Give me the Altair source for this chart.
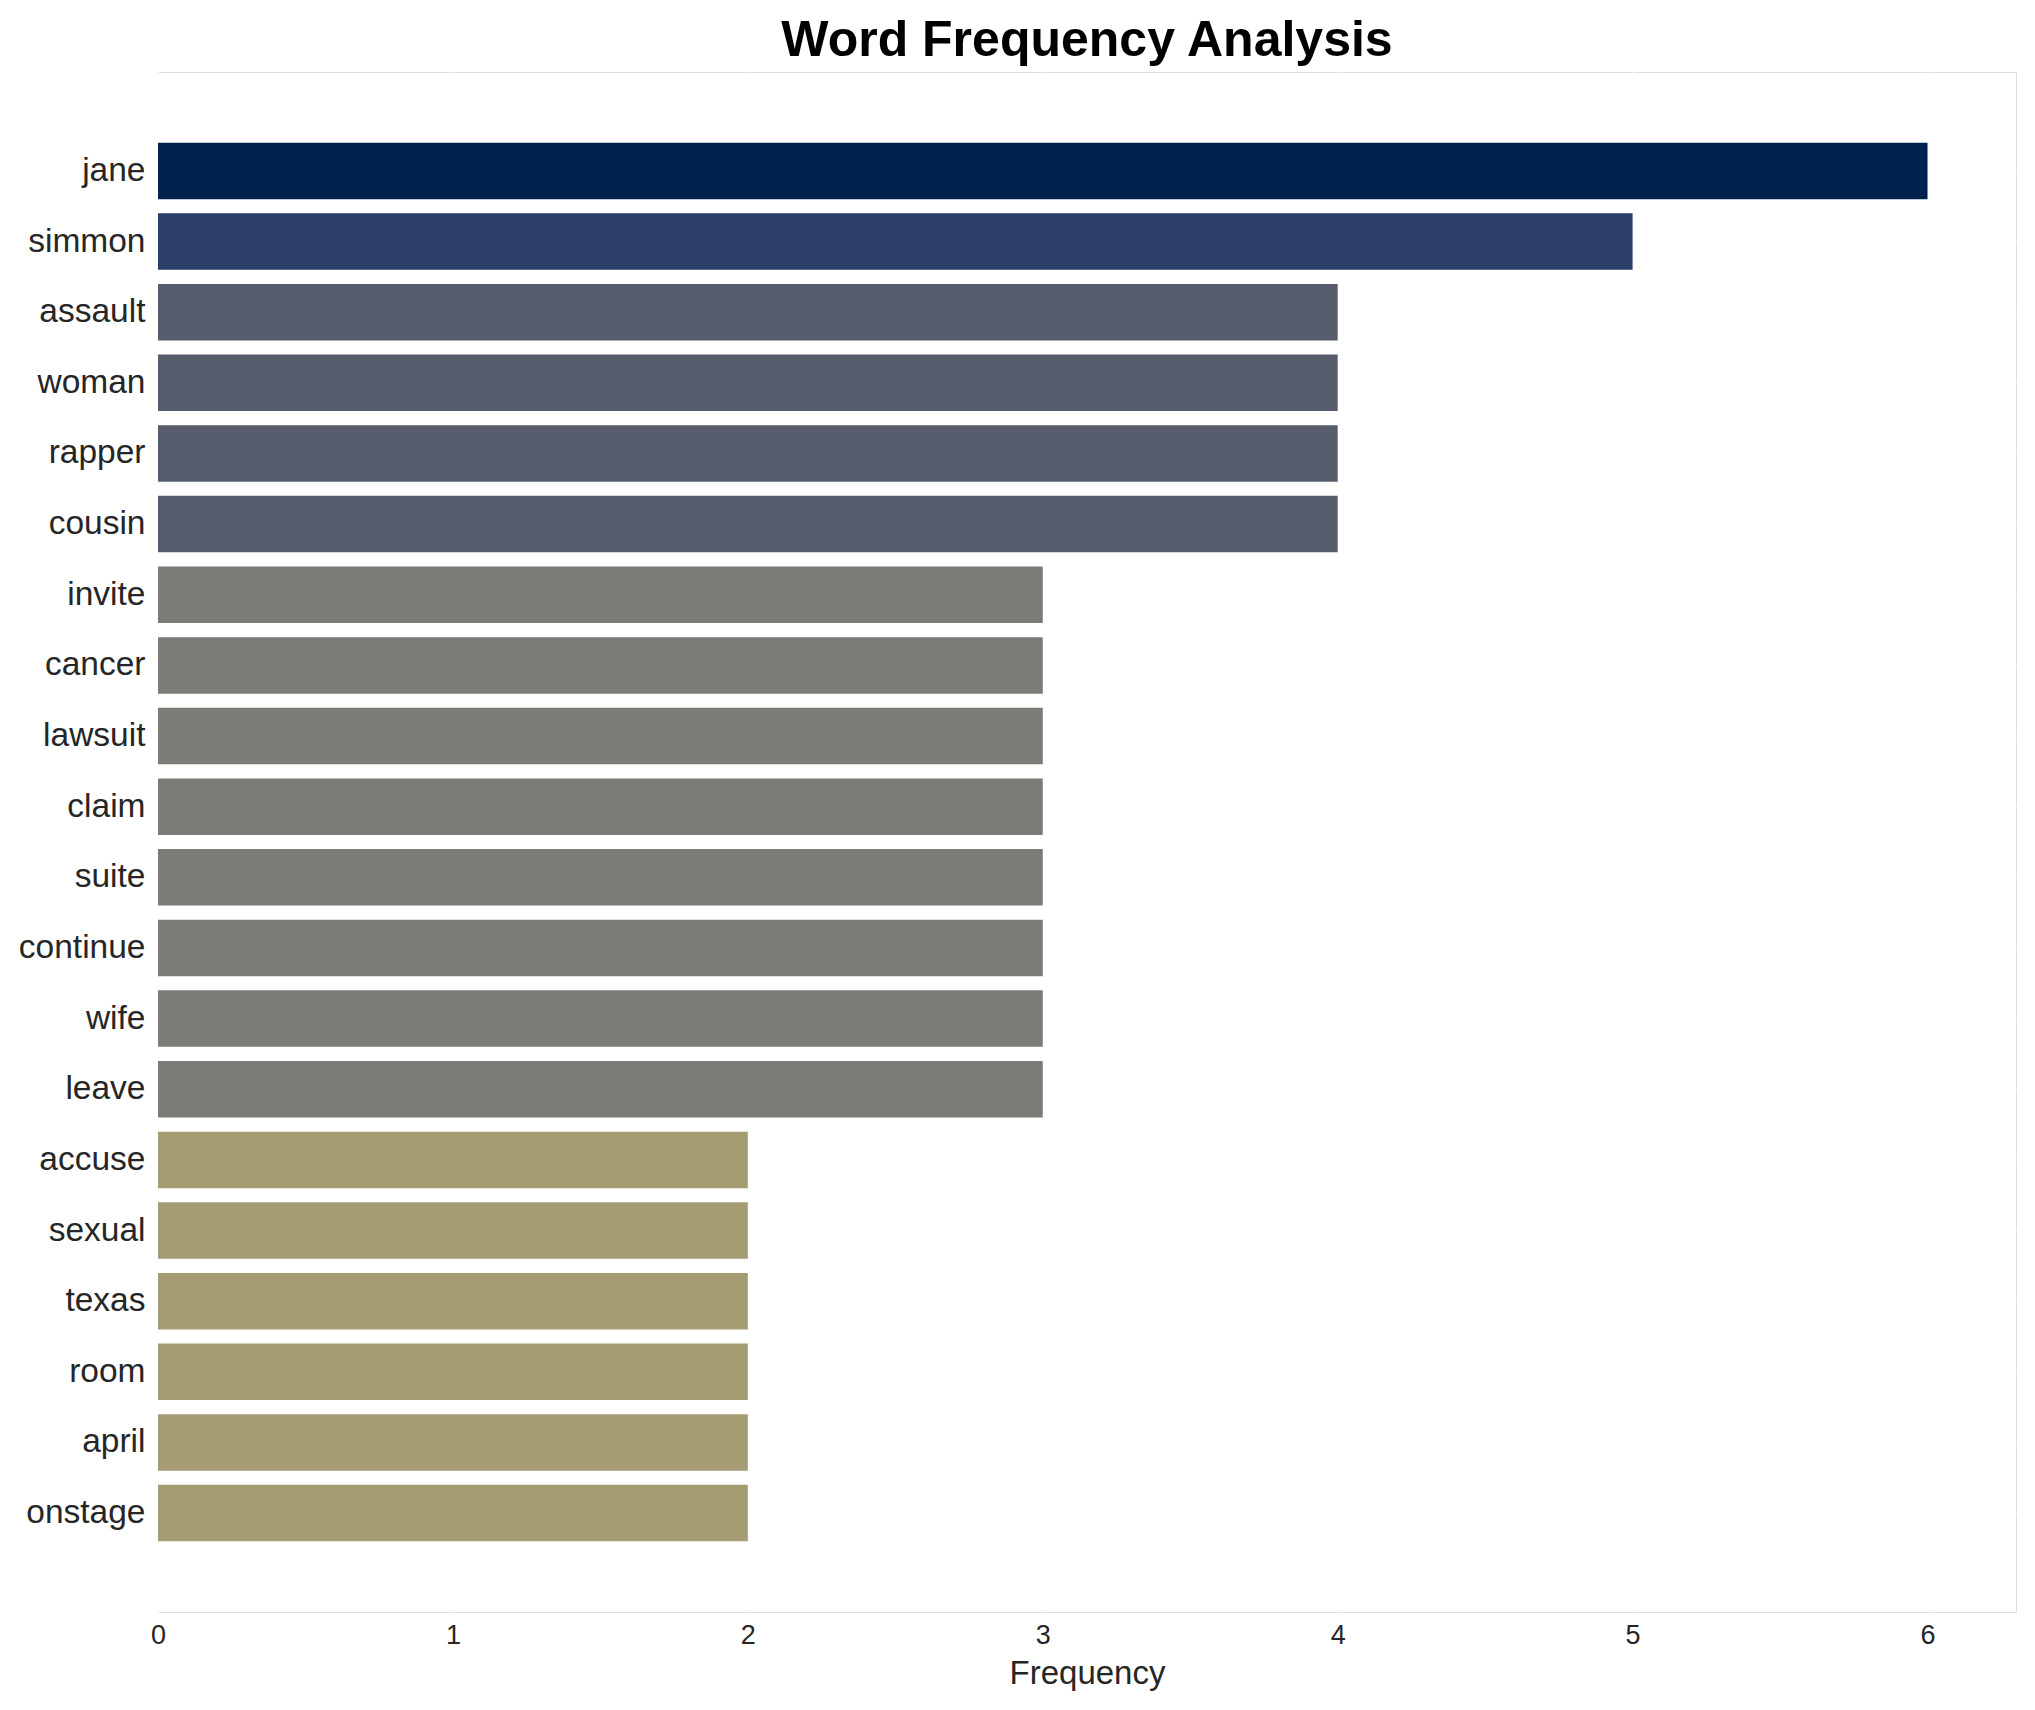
import altair as alt
import pandas as pd

words = ["jane", "simmon", "assault", "woman", "rapper", "cousin", "invite", "cancer",
         "lawsuit", "claim", "suite", "continue", "wife", "leave", "accuse", "sexual",
         "texas", "room", "april", "onstage"]
freqs = [6, 5, 4, 4, 4, 4, 3, 3, 3, 3, 3, 3, 3, 3, 2, 2, 2, 2, 2, 2]

color_levels = [6, 5, 4, 3, 2]
color_values = ["#00224e", "#2b3d6b", "#575d6d", "#7c7b78", "#a59c74"]
x_ticks = [0, 1, 2, 3, 4, 5, 6]

df = pd.DataFrame({"word": words, "freq": freqs})

FONT = "Liberation Sans"

chart = alt.Chart(df).mark_bar().encode(
    y=alt.Y("word:N", sort=words,
            scale=alt.Scale(paddingInner=0.2, paddingOuter=1.0),
            axis=alt.Axis(title=None, ticks=False, domain=False, labelPadding=13,
                          labelFontSize=33.5, labelColor="#262626", labelFont=FONT,
                          grid=True, gridColor="#ffffff", gridWidth=2)),
    x=alt.X("freq:Q", scale=alt.Scale(domain=[0, 6.3], nice=False),
            axis=alt.Axis(title="Frequency", values=x_ticks, format="d",
                          ticks=False, domain=False, labelPadding=10, labelFlush=False,
                          labelFontSize=27, labelColor="#262626", labelFont=FONT,
                          titleFontSize=33, titleFontWeight="normal", titleColor="#262626",
                          titleFont=FONT, titlePadding=9,
                          grid=True, gridColor="#ffffff", gridWidth=2)),
    color=alt.Color("freq:O", scale=alt.Scale(domain=color_levels, range=color_values),
                    legend=None),
).properties(
    width=1858,
    height=1540,
    title=alt.TitleParams("Word Frequency Analysis", fontSize=50, font=FONT,
                          fontWeight="bold", color="#000000", anchor="middle",
                          baseline="alphabetic", offset=17, dy=51),
    autosize=alt.AutoSizeParams(type="none"),
    padding={"left": 150, "top": 64, "right": 11, "bottom": 90},
).configure_view(
    fill="#f7f7f7", strokeWidth=0
).configure(background="#ffffff")

chart.save("out.html", embed_options={"renderer": "svg", "actions": False})
